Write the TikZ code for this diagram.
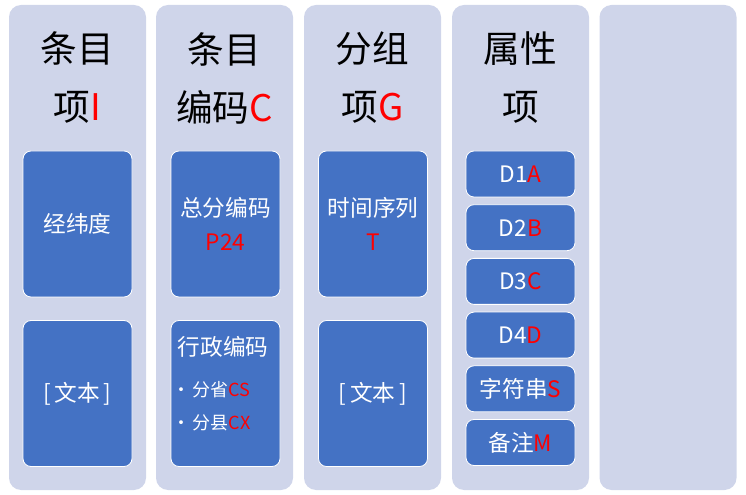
\documentclass[tikz,border=0pt]{standalone}
\usepackage{fontspec}
\setmainfont{Noto Sans CJK SC}
\definecolor{lanebg}{HTML}{CFD5EA}
\definecolor{cellbg}{HTML}{4472C4}
\newcommand{\hlred}[1]{\textcolor{red}{#1}}
\begin{document}
\begin{tikzpicture}[x=0.75pt, y=-0.75pt,
  lane/.style={fill=lanebg, rounded corners=9pt, minimum width=102.75pt, minimum height=363.75pt, inner sep=0pt},
  head/.style={font=\fontsize{27.5}{43.5}\selectfont, align=center},
  cell/.style={fill=cellbg, draw=white, line width=0.6pt, rounded corners=6pt, minimum width=81.75pt, minimum height=109.5pt, inner sep=0pt, text=white, align=center, font=\fontsize{17}{25.5}\selectfont},
  tagbox/.style={cell, minimum height=34.5pt},
  celltext/.style={text=white, inner sep=0pt, font=\fontsize{17}{20}\selectfont},
  bullettext/.style={text=white, inner sep=0pt, anchor=west, font=\fontsize{13.5}{16}\selectfont}]
  \useasboundingbox (0,0) rectangle (746,495);
  % Lanes
  \foreach \cx [count=\i] in {77.5,224.5,372.5,520.5,668} \node[lane] (lane\i) at (\cx,247.5) {};
  % Headings
  \node[head] (h1) at (77.5,78) {条目\\项\hlred{I}};
  \node[head] (h2) at (224.5,78) {条目\\编码\hlred{C}};
  \node[head] (h3) at (372.5,78) {分组\\项\hlred{G}};
  \node[head] (h4) at (520.5,78) {属性\\项};
  % Item, code and group cells
  \node[cell] (c1a) at (77.5,224) {经纬度};
  \node[cell] (c1b) at (77.5,393.5) {[\,文本\,]};
  \node[cell] (c2a) at (225.5,224) {总分编码\\\hlred{P24}};
  \node[cell] (c2b) at (225.5,393.5) {};
  \node[celltext] (adm) at (223,347) {行政编码};
  \node[bullettext] (prov) at (172,390) {\textbullet\hspace{2pt}分省\hlred{CS}};
  \node[bullettext] (cnty) at (172,423) {\textbullet\hspace{2pt}分县\hlred{CX}};
  \node[cell] (c3a) at (373,224) {时间序列\\\hlred{T}};
  \node[cell] (c3b) at (373,393.5) {[\,文本\,]};
  % Attribute tags
  \foreach \txt [count=\k] in {D1\hlred{A}, D2\hlred{B}, D3\hlred{C}, D4\hlred{D}, 字符串\hlred{S}, 备注\hlred{M}}
    \node[tagbox] (t\k) at (520.5,{174+(\k-1)*53.7}) {\txt};
\end{tikzpicture}
\end{document}
